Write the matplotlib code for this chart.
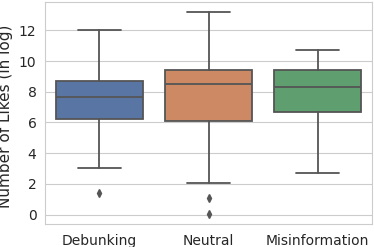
import matplotlib
matplotlib.use("Agg")
import matplotlib.pyplot as plt
import seaborn as sns

# values
categories = ["Debunking", "Neutral", "Misinformation"]
whislo = [3.0, 2.08, 2.71]
q1 = [6.24, 6.12, 6.70]
med = [7.68, 8.50, 8.29]
q3 = [8.72, 9.39, 9.39]
whishi = [12.0, 13.19, 10.72]
fliers = [[1.39], [1.10, 0.04], []]

sns.set_style("whitegrid")
plt.rcParams['font.family'] = ['DejaVu Sans']

colors = [sns.desaturate(c, 0.75) for c in sns.color_palette("deep", 3)]
gray = "#555555"

stats = []
for i, name in enumerate(categories):
    stats.append(dict(label=name, whislo=whislo[i], q1=q1[i], med=med[i],
                      q3=q3[i], whishi=whishi[i], fliers=fliers[i]))

fig = plt.figure(figsize=(3.74, 2.47), dpi=100)
ax = fig.add_axes([0.12, 0.093, 0.875, 0.899])

lw = 1.3
bp = ax.bxp(stats, positions=range(len(categories)), widths=0.8, patch_artist=True,
            boxprops=dict(edgecolor=gray, linewidth=lw),
            medianprops=dict(color=gray, linewidth=lw),
            whiskerprops=dict(color=gray, linewidth=lw),
            capprops=dict(color=gray, linewidth=lw),
            flierprops=dict(marker="d", markerfacecolor=gray, markeredgecolor=gray,
                            markersize=4, linestyle="none"))
for patch, c in zip(bp["boxes"], colors):
    patch.set_facecolor(c)

ax.set_xlim(-0.5, 2.5)
ax.set_yticks([0, 2, 4, 6, 8, 10, 12])
ax.set_ylabel("Number of Likes (in log)", fontsize=11)
ax.yaxis.set_label_coords(-0.096, 0.485)
ax.tick_params(labelsize=10)
ax.tick_params(axis="y", pad=2.5)
ax.grid(axis="x", visible=False)
ax.set_axisbelow(True)

fig.savefig("out.png", dpi=100)
